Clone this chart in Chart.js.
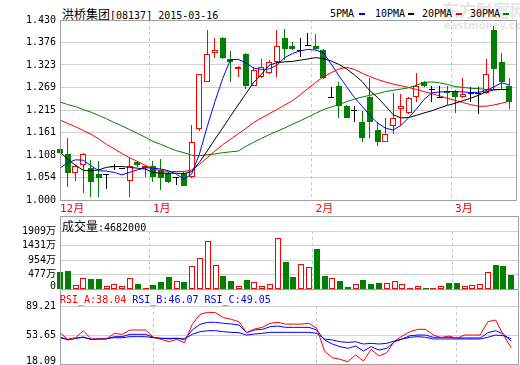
<!DOCTYPE html>
<html>
<head>
<meta charset="utf-8">
<script src="https://cdn.jsdelivr.net/npm/chart.js@4.4.0/dist/chart.umd.min.js"></script>
<style>
body { margin: 0; background: #fff; width: 520px; height: 365px; overflow: hidden; position: relative;
       font-family: 'DejaVu Sans Mono', 'Noto Sans CJK SC', monospace; font-size: 10px; color: #000; }
canvas { position: absolute; left: 0; }
.txt { position: absolute; white-space: nowrap; line-height: 12px; }
.cjk { font-family: 'Noto Sans CJK SC'; font-size: 12px; }
.key { position: absolute; height: 2px; width: 6px; }
.wm { position: absolute; color: #e6e6e6; font-weight: bold; white-space: nowrap; font-family: 'Noto Sans CJK SC'; }
</style>
</head>
<body>
<div class="wm" style="left:442px;top:0px;font-size:17px;line-height:20px">东方财富网</div>
<div class="wm" style="left:444px;top:20px;font-size:10px;line-height:11px;font-family:'DejaVu Sans'">eastmoney.com</div>

<div class="txt" style="left:62px;top:8px"><span class="cjk">洪桥集团</span>[08137] 2015-03-16</div>
<div class="txt" style="left:330px;top:8px">5PMA</div><div class="key" style="left:359px;top:13px;background:#0000ff"></div>
<div class="txt" style="left:375px;top:8px">10PMA</div><div class="key" style="left:408px;top:13px;background:#000"></div>
<div class="txt" style="left:422px;top:8px">20PMA</div><div class="key" style="left:456px;top:13px;background:#ff0000"></div>
<div class="txt" style="left:470px;top:8px">30PMA</div><div class="key" style="left:503px;top:13px;background:#008000"></div>

<canvas id="price" width="520" height="215" style="top:0px"></canvas>
<canvas id="vol" width="520" height="78" style="top:214px"></canvas>
<canvas id="rsi" width="520" height="75" style="top:290px"></canvas>

<div class="txt" style="left:62px;top:220px"><span class="cjk">成交量</span>:4682000</div>
<div class="txt" style="left:60px;top:294px"><span style="color:#ff0000">RSI_A:38.04</span> <span style="color:#0000ff">RSI_B:46.07</span> <span style="color:#0000ff">RSI_C:49.05</span></div>

<script>
// trading days, only month starts are labelled
const dayLabels = [
  '12月', '', '', '', '', '', '', '', '', '', '', '',
  '1月', '', '', '', '', '', '', '', '', '', '', '', '', '', '', '', '', '', '', '', '',
  '2月', '', '', '', '', '', '', '', '', '', '', '', '', '', '', '', '', '',
  '3月', '', '', '', '', '', '', ''
];

const opens  = [1.121, 1.111, 1.064, 1.084, 1.076, 1.062, 1.060, 1.080, 1.075, 1.045,
                1.091, 1.076, 1.081, 1.072, 1.064, 1.052, 1.064, 1.054, 1.169, 1.283,
                1.350, 1.388, 1.338, 1.312, 1.349, 1.273, 1.293, 1.303, 1.330, 1.386,
                1.368, 1.357, 1.368, 1.368, 1.358, 1.243, 1.272, 1.224, 1.213, 1.186,
                1.245, 1.167, 1.139, 1.177, 1.217, 1.207, 1.245, 1.283, 1.263, 1.243,
                1.261, 1.261, 1.247, 1.253, 1.253, 1.255, 1.406, 1.330, 1.272];
const highs  = [1.167, 1.148, 1.083, 1.113, 1.096, 1.093, 1.062, 1.085, 1.077, 1.101,
                1.093, 1.083, 1.092, 1.099, 1.066, 1.054, 1.068, 1.178, 1.302, 1.406,
                1.386, 1.390, 1.356, 1.320, 1.351, 1.318, 1.336, 1.334, 1.406, 1.408,
                1.378, 1.386, 1.398, 1.397, 1.360, 1.271, 1.283, 1.226, 1.224, 1.213,
                1.292, 1.186, 1.195, 1.255, 1.253, 1.245, 1.303, 1.285, 1.272, 1.272,
                1.272, 1.263, 1.291, 1.271, 1.271, 1.338, 1.416, 1.350, 1.291];
const lows   = [1.065, 1.032, 1.045, 1.017, 1.007, 1.007, 1.026, 1.072, 1.073, 1.007,
                1.078, 1.056, 1.044, 1.024, 1.040, 1.036, 1.033, 1.052, 1.165, 1.283,
                1.340, 1.338, 1.281, 1.293, 1.264, 1.272, 1.292, 1.302, 1.295, 1.334,
                1.358, 1.341, 1.367, 1.358, 1.290, 1.243, 1.197, 1.195, 1.187, 1.139,
                1.149, 1.129, 1.139, 1.157, 1.179, 1.205, 1.235, 1.270, 1.235, 1.243,
                1.228, 1.208, 1.243, 1.235, 1.205, 1.253, 1.263, 1.263, 1.217];
const closes = [1.113, 1.064, 1.081, 1.111, 1.044, 1.053, 1.060, 1.080, 1.075, 1.081,
                1.084, 1.081, 1.054, 1.053, 1.044, 1.052, 1.034, 1.138, 1.300, 1.348,
                1.358, 1.340, 1.330, 1.318, 1.273, 1.310, 1.318, 1.329, 1.368, 1.360,
                1.360, 1.357, 1.368, 1.360, 1.292, 1.243, 1.225, 1.197, 1.213, 1.149,
                1.187, 1.139, 1.157, 1.195, 1.224, 1.243, 1.272, 1.273, 1.263, 1.243,
                1.255, 1.245, 1.253, 1.253, 1.253, 1.301, 1.312, 1.283, 1.235];

const ma5  = [1.076, 1.089, 1.096, 1.095, 1.082, 1.070, 1.069, 1.066, 1.060, 1.066,
              1.072, 1.077, 1.076, 1.074, 1.070, 1.062, 1.050, 1.062, 1.110, 1.175,
              1.235, 1.290, 1.335, 1.336, 1.328, 1.315, 1.312, 1.313, 1.322, 1.340,
              1.350, 1.356, 1.360, 1.358, 1.352, 1.325, 1.297, 1.271, 1.245, 1.224,
              1.202, 1.184, 1.172, 1.167, 1.178, 1.196, 1.217, 1.240, 1.256, 1.258,
              1.259, 1.259, 1.258, 1.257, 1.257, 1.261, 1.270, 1.280, 1.275];
const ma10 = [1.115, 1.097, 1.083, 1.071, 1.070, 1.072, 1.078, 1.080, 1.080, 1.078,
              1.076, 1.074, 1.066, 1.064, 1.064, 1.064, 1.063, 1.068, 1.090, 1.117,
              1.145, 1.172, 1.200, 1.227, 1.254, 1.281, 1.300, 1.322, 1.328, 1.330,
              1.331, 1.334, 1.337, 1.340, 1.338, 1.332, 1.324, 1.313, 1.299, 1.283,
              1.261, 1.245, 1.225, 1.204, 1.196, 1.197, 1.202, 1.208, 1.213, 1.220,
              1.226, 1.231, 1.237, 1.243, 1.250, 1.258, 1.263, 1.264, 1.264];
const ma20 = [1.191, 1.183, 1.175, 1.166, 1.157, 1.146, 1.133, 1.122, 1.111, 1.101,
              1.092, 1.083, 1.074, 1.070, 1.068, 1.068, 1.068, 1.072, 1.085, 1.101,
              1.117, 1.132, 1.145, 1.158, 1.171, 1.185, 1.196, 1.206, 1.216, 1.227,
              1.237, 1.251, 1.266, 1.281, 1.294, 1.304, 1.313, 1.317, 1.312, 1.303,
              1.295, 1.288, 1.282, 1.277, 1.273, 1.269, 1.264, 1.259, 1.254, 1.249,
              1.243, 1.238, 1.233, 1.228, 1.224, 1.224, 1.227, 1.231, 1.236];
const ma30 = [1.234, 1.228, 1.223, 1.216, 1.210, 1.202, 1.194, 1.185, 1.177, 1.168,
              1.159, 1.150, 1.140, 1.133, 1.125, 1.118, 1.113, 1.107, 1.106, 1.108,
              1.110, 1.113, 1.115, 1.117, 1.128, 1.138, 1.147, 1.156, 1.164, 1.172,
              1.181, 1.189, 1.198, 1.207, 1.216, 1.222, 1.228, 1.235, 1.241, 1.246,
              1.250, 1.254, 1.259, 1.262, 1.265, 1.268, 1.274, 1.281, 1.282, 1.280,
              1.276, 1.271, 1.269, 1.267, 1.266, 1.264, 1.264, 1.264, 1.264];

// volume in 万 shares
const volumes = [551, 607, 138, 367, 344, 344, 105, 171, 105, 367,
                 180, 49, 148, 223, 410, 279, 223, 771, 1023, 1591,
                 804, 420, 256, 105, 289, 223, 115, 180, 1679, 879,
                 387, 826, 728, 1328, 443, 367, 279, 59, 171, 312,
                 180, 213, 197, 269, 171, 39, 92, 49, 49, 92,
                 213, 213, 105, 138, 171, 574, 804, 771, 468];

const rsiA = [56.5, 48.3, 50.3, 58.9, 48.8, 48.8, 48.8, 55.7, 54.4, 59.8,
              59.8, 59.8, 50.8, 48.3, 45.4, 48.3, 44.2, 66.7, 79.0, 81.5,
              81.0, 74.9, 72.9, 70.0, 56.5, 61.0, 63.0, 68.0, 69.2, 67.0,
              67.0, 67.0, 68.0, 61.9, 34.0, 25.8, 23.8, 20.9, 29.1, 21.8,
              36.1, 27.9, 31.9, 46.3, 52.4, 57.7, 60.6, 60.6, 53.6, 50.3,
              52.4, 49.6, 53.6, 53.6, 53.6, 70.0, 72.0, 53.6, 38.04];
const rsiB = [51.6, 47.5, 49.6, 51.2, 48.3, 48.8, 48.8, 51.6, 51.6, 54.5,
              54.5, 54.5, 50.8, 49.6, 48.8, 49.6, 48.3, 59.8, 66.7, 69.2,
              69.2, 68.0, 67.2, 65.9, 56.5, 59.8, 60.6, 63.8, 64.6, 63.0,
              63.0, 63.0, 63.0, 59.8, 47.5, 42.6, 39.3, 37.3, 40.1, 34.0,
              39.3, 35.2, 37.3, 45.4, 48.8, 52.8, 53.6, 53.6, 50.8, 50.8,
              50.8, 50.0, 50.0, 50.0, 50.0, 56.5, 58.9, 54.9, 46.07];
const rsiC = [50.3, 48.3, 49.6, 50.8, 48.3, 48.8, 49.6, 50.3, 50.3, 51.6,
              51.6, 51.6, 50.3, 49.6, 49.6, 49.6, 48.8, 54.5, 57.7, 58.9,
              58.9, 57.7, 56.9, 56.5, 53.6, 54.9, 55.7, 56.9, 56.9, 56.9,
              56.9, 56.9, 56.9, 55.7, 48.8, 47.5, 45.4, 44.6, 45.4, 42.6,
              43.4, 42.6, 43.4, 46.3, 48.8, 50.8, 51.6, 50.8, 48.8, 48.8,
              48.8, 48.8, 48.8, 48.8, 48.8, 50.8, 53.6, 52.8, 49.05];

const priceTicks = ['1.000', '1.054', '1.108', '1.161', '1.215', '1.269', '1.323', '1.376', '1.430'];
const volTicks = ['0', '477万', '954万', '1431万', '1909万'];
const rsiTicks = ['18.09', '53.65', '89.21'];

const FONT = "'DejaVu Sans Mono', 'Noto Sans CJK SC', monospace";
const RED = '#ff0000', GREEN = '#008000', BLUE = '#0000ff';
const xLabels = dayLabels.concat(['']);   // one spare slot on the right

Chart.defaults.font.family = FONT;
Chart.defaults.color = '#000';

const dir = closes.map((c, i) => c > opens[i] ? 1 : (c < opens[i] ? -1 : 0));
const candleColor = dir.map(d => d > 0 ? RED : (d < 0 ? GREEN : '#000000'));

// outline around the plot area
const framePlugin = {
  id: 'frame',
  afterDraw(chart, args, opts) {
    const a = chart.chartArea, ctx = chart.ctx;
    const l = Math.round(a.left) + 0.5, r = Math.round(a.right) - 0.5;
    const t = (opts.top != null ? opts.top : Math.round(a.top)) + 0.5;
    const b = Math.round(a.bottom) + 0.5;
    ctx.save();
    ctx.strokeStyle = '#a0a0a0';
    ctx.lineWidth = 1;
    ctx.beginPath();
    if (opts.topLine !== false) { ctx.moveTo(l, t); ctx.lineTo(r, t); }
    ctx.moveTo(l, t); ctx.lineTo(l, b); ctx.lineTo(r, b); ctx.lineTo(r, t);
    ctx.stroke();
    ctx.restore();
  }
};

// keep bars on whole pixels so candles look crisp
const snapPlugin = {
  id: 'snap',
  afterDatasetsUpdate(chart) {
    chart.data.datasets.forEach((ds, di) => {
      const meta = chart.getDatasetMeta(di);
      if (meta.type !== 'bar') return;
      meta.data.forEach(el => {
        const w = Math.round(el.width);
        el.x = Math.round(el.x - w / 2) + w / 2;
        el.y = Math.round(el.y);
        el.base = Math.round(el.base);
      });
    });
  }
};

// lift the lowest y label a little (sub panels)
const liftPlugin = {
  id: 'lift',
  beforeDraw(chart, args, opts) {
    if (!opts.shift) return;
    const items = chart.scales.y.getLabelItems();
    if (items.length) items[0].options.translation[1] -= opts.shift;
  }
};

function xScale(showTicks) {
  return {
    type: 'category',
    offset: false,
    grid: { drawTicks: false, color: c => dayLabels[c.index] ? '#c8c8c8' : 'rgba(0,0,0,0)' },
    border: { display: false, dash: [3, 3] },
    ticks: {
      display: showTicks, autoSkip: false, maxRotation: 0, minRotation: 0,
      align: 'start', padding: 3, color: RED, font: { size: 11 },
      callback: (v, i) => xLabels[i]
    },
    afterFit: s => { s.height = showTicks ? 14 : 0; }
  };
}

function yScale(min, max, labels) {
  return {
    type: 'linear', min: min, max: max,
    grid: { drawTicks: false, color: '#d0d0d0' },
    border: { display: false },
    ticks: { autoSkip: false, padding: 4, font: { size: 10 }, color: '#000', callback: (v, i) => labels[i] },
    afterBuildTicks: s => {
      s.ticks = labels.map((_, k) => ({ value: min + (max - min) * k / (labels.length - 1) }));
    },
    afterFit: s => { s.width = 60; s.paddingTop = 0; s.paddingBottom = 0; }
  };
}

function lineSet(data, color) {
  return { type: 'line', data: data, borderColor: color, borderWidth: 1, pointRadius: 0,
           fill: false, tension: 0, order: 0 };
}

function baseOptions(padding, frame, lift) {
  return {
    responsive: false,
    animation: false,
    events: [],
    layout: { padding: padding },
    plugins: { legend: { display: false }, tooltip: { enabled: false }, frame: frame, lift: lift },
    scales: {}
  };
}

// price panel
const priceOpts = baseOptions({ top: 20, left: 0, right: 1, bottom: 1 }, {}, {});
priceOpts.scales.x = xScale(true);
priceOpts.scales.y = yScale(1.0, 1.43, priceTicks);
new Chart(document.getElementById('price'), {
  type: 'bar',
  data: {
    labels: xLabels,
    datasets: [
      lineSet(ma5, BLUE),
      lineSet(ma10, '#000000'),
      lineSet(ma20, RED),
      lineSet(ma30, GREEN),
      {
        type: 'bar',
        data: opens.map((o, i) => [o, closes[i]]),
        barThickness: 6,
        backgroundColor: dir.map((d, i) => d > 0 ? '#ffffff' : candleColor[i]),
        borderColor: candleColor,
        borderWidth: dir.map(d => d > 0 ? 1 : 0),
        borderSkipped: false,
        minBarLength: 1,
        inflateAmount: 0,
        grouped: false,
        clip: false,
        order: 1
      },
      {
        type: 'bar',
        data: lows.map((l, i) => [l, highs[i]]),
        barThickness: 1,
        backgroundColor: candleColor,
        borderWidth: 0,
        inflateAmount: 0,
        grouped: false,
        clip: false,
        order: 2
      }
    ]
  },
  options: priceOpts,
  plugins: [snapPlugin, framePlugin, liftPlugin]
});

// volume panel
const volOpts = baseOptions({ top: 17, left: 0, right: 1, bottom: 3 }, { top: 2 }, { shift: 3 });
volOpts.scales.x = xScale(false);
volOpts.scales.y = yScale(0, 1909, volTicks);
new Chart(document.getElementById('vol'), {
  type: 'bar',
  data: {
    labels: xLabels,
    datasets: [{
      data: volumes,
      barThickness: 6,
      backgroundColor: dir.map(d => d < 0 ? GREEN : '#ffffff'),
      borderColor: dir.map(d => d < 0 ? GREEN : RED),
      borderWidth: dir.map(d => d < 0 ? 0 : 1),
      borderSkipped: false,
      inflateAmount: 0,
      clip: false
    }]
  },
  options: volOpts,
  plugins: [snapPlugin, framePlugin, liftPlugin]
});

// RSI panel
const rsiOpts = baseOptions({ top: 16, left: 0, right: 1, bottom: 1 }, { top: 0, topLine: false }, { shift: 3 });
rsiOpts.scales.x = xScale(false);
rsiOpts.scales.y = yScale(18.09, 89.21, rsiTicks);
new Chart(document.getElementById('rsi'), {
  type: 'line',
  data: {
    labels: xLabels,
    datasets: [lineSet(rsiA, RED), lineSet(rsiB, BLUE), lineSet(rsiC, BLUE)]
  },
  options: rsiOpts,
  plugins: [framePlugin, liftPlugin]
});
</script>
</body>
</html>
